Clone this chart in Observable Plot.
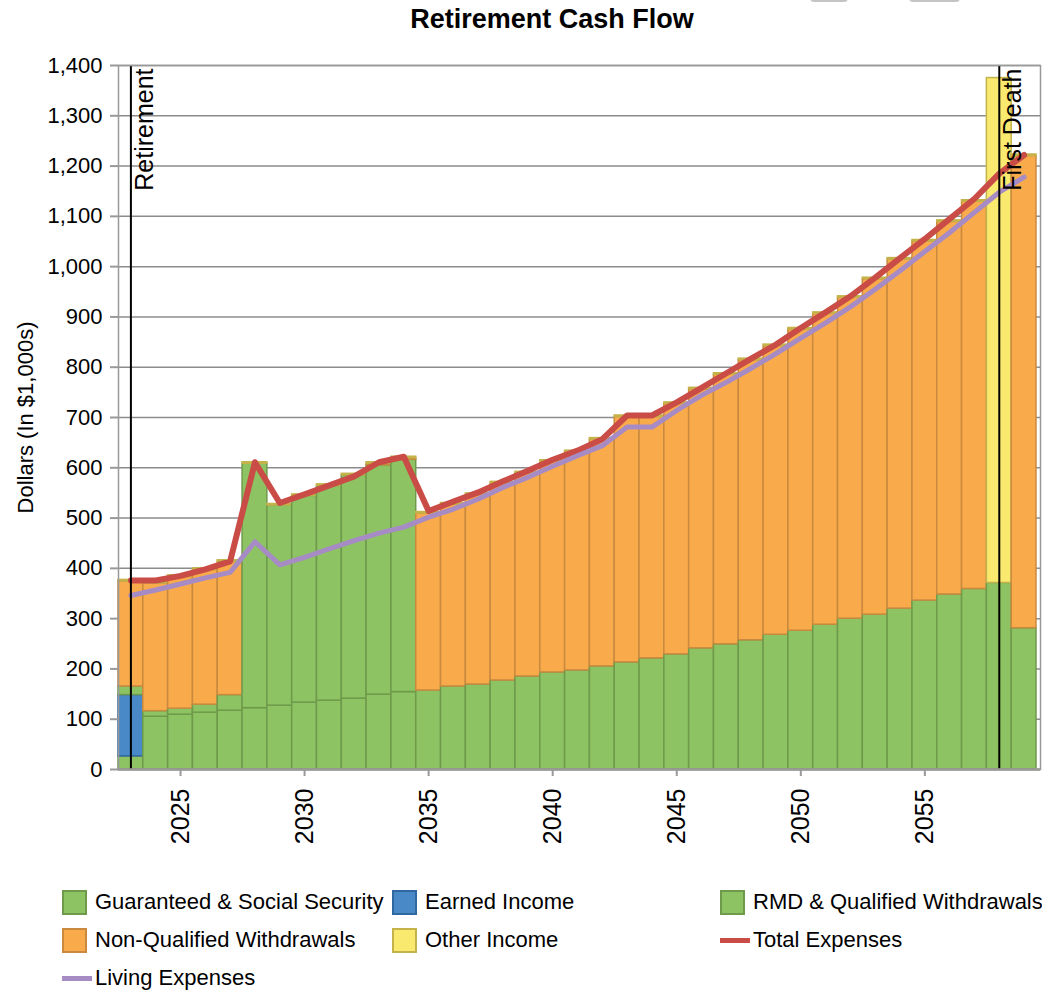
<!DOCTYPE html>
<html><head><meta charset="utf-8">
<script src="https://cdn.jsdelivr.net/npm/d3@7"></script>
<script src="https://cdn.jsdelivr.net/npm/@observablehq/plot@0.6"></script>
<style>
body{margin:0;background:#fff;font-family:"Liberation Sans",Arial,sans-serif;}
#wrap{position:relative;width:1042px;height:991px;overflow:hidden;background:#fff}
#title{position:absolute;left:0;top:4px;width:1042px;padding-left:62px;box-sizing:border-box;text-align:center;font-weight:bold;font-size:27px;color:#000}
#chart{position:absolute;left:0;top:40px}
.sw{position:absolute;box-sizing:border-box;width:25px;height:25px;border:2px solid}
.ln{position:absolute;width:30px;height:5px}
.lt{position:absolute;font-size:22px;line-height:26px;color:#000;white-space:nowrap}
.btn{position:absolute;top:-20px;height:22px;background:#c4c4c4;border-radius:4px}
</style></head>
<body><div id="wrap">
<div class="btn" style="left:810px;width:38px"></div>
<div class="btn" style="left:909px;width:51px"></div>
<div id="title">Retirement Cash Flow</div>
<div id="chart"></div>
<div id="legend"></div>
</div>
<script>
const years = [2023,2024,2025,2026,2027,2028,2029,2030,2031,2032,2033,2034,2035,2036,2037,2038,2039,2040,2041,2042,2043,2044,2045,2046,2047,2048,2049,2050,2051,2052,2053,2054,2055,2056,2057,2058,2059];
const guaranteed   = [26,105,109,113,117,122,127,133,137,141,149,154,157,165,169,177,185,193,197,205,213,221,229,241,249,257,268,276,288,300,308,320,336,348,359,371,281];
const earned       = [122,0,0,0,0,0,0,0,0,0,0,0,0,0,0,0,0,0,0,0,0,0,0,0,0,0,0,0,0,0,0,0,0,0,0,0,0];
const rmd          = [17,11,12,16,31,486,398,411,427,444,456,462,0,0,0,0,0,0,0,0,0,0,0,0,0,0,0,0,0,0,0,0,0,0,0,0,0];
const nonQualified = [209,254,262,268,265,0,0,0,0,0,3,3,352,362,377,392,404,419,434,451,488,480,498,515,536,557,574,599,618,638,667,694,714,741,770,0,939];
const otherIncome  = [3,3,3,3,3,3,3,3,3,3,3,3,3,3,3,3,3,3,3,3,3,3,3,3,3,3,3,3,3,3,3,3,3,3,3,1004,3];
const totalExpenses  = [376,376,385,398,414,611,530,547,565,583,611,622,514,533,551,573,594,616,634,657,704,704,730,759,788,817,845,878,909,941,978,1017,1055,1095,1135,1185,1222];
const livingExpenses = [346,357,369,381,392,453,407,422,439,455,470,482,502,518,538,561,581,603,624,644,681,681,714,744,770,798,827,858,888,920,955,992,1030,1068,1108,1148,1178];
const seriesNames = ["Guaranteed & Social Security","Earned Income","RMD & Qualified Withdrawals","Non-Qualified Withdrawals","Other Income"];
const lineNames = ["Total Expenses","Living Expenses"];
const eventYears = [2023,2058];
const eventLabels = ["Retirement","First Death"];
const yTicks = [0,100,200,300,400,500,600,700,800,900,1000,1100,1200,1300,1400];
const xTicks = [2025,2030,2035,2040,2045,2050,2055];
const yLabel = "Dollars (In $1,000s)";

const fills   = ["#8dc363","#4a89c8","#8dc363","#f9aa4b","#f9e96f"];
const strokes = ["#6f9a4c","#2f67a0","#6f9a4c","#c98a3f","#c4b24a"];
const lineColors = ["#c94c47","#a78bc5"];

const seriesValues = [guaranteed, earned, rmd, nonQualified, otherIncome];
const rows = [];
years.forEach((yr,i)=>seriesNames.forEach((s,k)=>{
  if (seriesValues[k][i] > 0) rows.push({year:yr, series:s, k, value:seriesValues[k][i]});
}));
const totalRows = years.map((yr,i)=>({year:yr, value:totalExpenses[i]}));
const livingRows = years.map((yr,i)=>({year:yr, value:livingExpenses[i]}));
const events = eventYears.map((yr,i)=>({year:yr, label:eventLabels[i]}));

const chart = Plot.plot({
  width:1042, height:845,
  marginTop:25, marginBottom:116, marginLeft:118, marginRight:6,
  style:{fontFamily:"'Liberation Sans', Arial, sans-serif", fontSize:"22px", color:"#000", background:"#fff"},
  x:{type:"band", domain:years, padding:0, round:false},
  y:{domain:[0,1400]},
  color:{type:"identity"},
  marks:[
    Plot.gridY(yTicks, {stroke:"#8c8c8c", strokeOpacity:1, strokeWidth:1.5, insetRight:-4}),
    Plot.barY(rows, {x:"year", y:"value", z:"series", fill:d=>fills[d.k], stroke:d=>strokes[d.k], strokeWidth:1.5}),
    Plot.lineY(totalRows, {x:"year", y:"value", stroke:lineColors[0], strokeWidth:6}),
    Plot.lineY(livingRows, {x:"year", y:"value", stroke:lineColors[1], strokeWidth:5}),
    Plot.ruleX(events, {x:"year", stroke:"#000", strokeWidth:2}),
    Plot.text(events, {x:"year", text:"label", frameAnchor:"top", rotate:-90, textAnchor:"end", dx:4, dy:3, fontSize:25, fill:"#000"}),
    Plot.frame({stroke:"#999", strokeWidth:1.5, insetRight:-4}),
    Plot.ruleY([0], {stroke:"#999", strokeWidth:2.5, insetRight:-4}),
    Plot.axisX(xTicks, {tickRotate:-90, tickSize:7, tickPadding:12, tickFormat:d=>String(d), stroke:"#999", strokeWidth:2, fill:"#000", fontSize:25, label:null}),
    Plot.axisY(yTicks, {tickFormat:d3.format(","), tickSize:8, tickPadding:8, stroke:"#999", strokeWidth:2, fill:"#000", fontSize:22, label:null}),
    Plot.text([yLabel], {text:d=>d, frameAnchor:"left", textAnchor:"middle", dx:-93, rotate:-90, fontSize:22, fill:"#000"})
  ]
});
document.getElementById("chart").appendChild(chart);

// legend (HTML, below the SVG)
const legend = document.getElementById("legend");
const legendItems = [
  {name:seriesNames[0], type:"box", k:0, col:0, row:0},
  {name:seriesNames[1], type:"box", k:1, col:1, row:0},
  {name:seriesNames[2], type:"box", k:2, col:2, row:0},
  {name:seriesNames[3], type:"box", k:3, col:0, row:1},
  {name:seriesNames[4], type:"box", k:4, col:1, row:1},
  {name:lineNames[0], type:"line", k:0, col:2, row:1},
  {name:lineNames[1], type:"line", k:1, col:0, row:2}
];
const colX = [62, 392, 720];
const rowY = [902, 940, 978];
legendItems.forEach(it=>{
  const x = colX[it.col], cy = rowY[it.row];
  if (it.type === "box") {
    const s = document.createElement("div");
    s.className = "sw";
    s.style.left = x + "px"; s.style.top = (cy-12) + "px";
    s.style.background = fills[it.k]; s.style.borderColor = strokes[it.k];
    legend.appendChild(s);
  } else {
    const s = document.createElement("div");
    s.className = "ln";
    s.style.left = x + "px"; s.style.top = (cy-2) + "px";
    s.style.background = lineColors[it.k];
    legend.appendChild(s);
  }
  const t = document.createElement("div");
  t.className = "lt";
  t.style.left = (x + 33) + "px"; t.style.top = (cy-13) + "px";
  t.textContent = it.name;
  legend.appendChild(t);
});
</script>
</body></html>
